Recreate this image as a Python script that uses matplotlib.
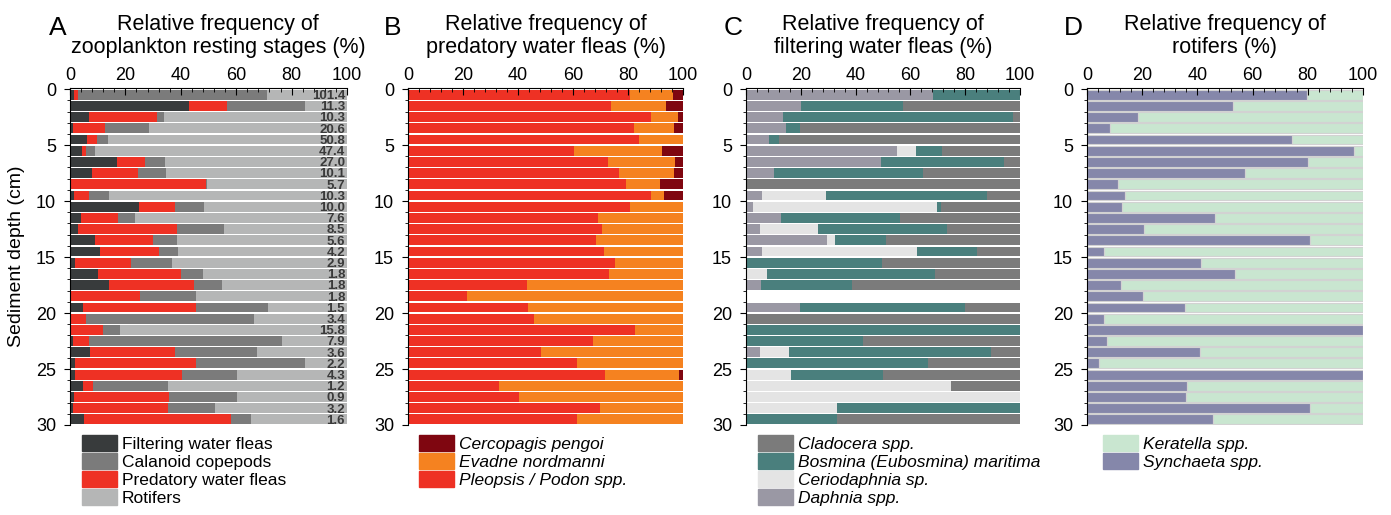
import numpy as np
import matplotlib
matplotlib.use("Agg")
import matplotlib.pyplot as plt
from matplotlib.patches import Patch
from matplotlib.ticker import MultipleLocator

plt.rcParams['font.family'] = ['Liberation Sans', 'DejaVu Sans']

depth = np.arange(30) + 0.5

# Panel A: zooplankton resting stages (%)
filtering = [1.5, 42.8, 6.7, 1.2, 6.1, 4.2, 17.0, 8.1, 0.4, 1.5, 24.8, 4.1, 2.9, 9.1, 10.9,
             1.8, 10.1, 14.0, 0.2, 4.7, 0.2, 0.2, 1.0, 7.3, 1.8, 1.8, 4.7, 1.3, 1.0, 5.2]
predatory = [1.4, 14.0, 24.6, 11.4, 3.6, 1.7, 9.9, 16.5, 48.8, 5.4, 13.2, 13.4, 35.8, 20.8, 21.1,
             20.2, 30.1, 30.7, 24.9, 40.9, 5.5, 11.6, 5.9, 30.6, 43.7, 38.6, 3.6, 34.4, 34.2, 53.1]
calanoid = [68.1, 28.2, 2.6, 15.8, 4.0, 3.2, 7.4, 10.1, 0.2, 7.1, 10.2, 5.9, 17.0, 8.6, 7.0,
            14.7, 7.8, 10.3, 20.4, 25.9, 60.7, 6.4, 69.6, 29.5, 39.5, 19.9, 27.0, 24.6, 17.0, 7.2]
rotifers = [29.0, 15.0, 66.1, 71.6, 86.3, 90.9, 65.7, 65.3, 50.6, 86.0, 51.8, 76.6, 44.3, 61.5, 61.0,
            63.3, 52.0, 45.0, 54.5, 28.5, 33.6, 81.8, 23.5, 32.6, 15.0, 39.7, 64.7, 39.7, 47.8, 34.5]
totals = ["101.4", "11.3", "10.3", "20.6", "50.8", "47.4", "27.0", "10.1", "5.7", "10.3",
          "10.0", "7.6", "8.5", "5.6", "4.2", "2.9", "1.8", "1.8", "1.8", "1.5",
          "3.4", "15.8", "7.9", "3.6", "2.2", "4.3", "1.2", "0.9", "3.2", "1.6"]

# Panel B: predatory water fleas (%)
pleopsis = [80.7, 73.9, 88.2, 82.2, 84.1, 60.4, 72.8, 76.9, 79.4, 88.2, 80.8, 69.2, 70.6, 68.2, 71.2,
            75.1, 73.2, 43.3, 21.5, 43.5, 45.7, 82.6, 67.2, 48.4, 61.5, 71.6, 33.0, 40.5, 69.7, 61.5]
evadne = [15.7, 19.8, 10.1, 14.6, 15.9, 32.0, 24.4, 19.9, 12.1, 4.9, 19.2, 30.8, 29.4, 31.8, 28.8,
          24.9, 26.8, 56.7, 78.5, 56.5, 54.3, 17.4, 32.8, 51.6, 38.5, 27.0, 67.0, 59.5, 30.3, 38.5]
cercopagis = [3.6, 6.3, 1.7, 3.2, 0, 7.6, 2.8, 3.2, 8.5, 6.9, 0, 0, 0, 0, 0,
              0, 0, 0, 0, 0, 0, 0, 0, 0, 0, 1.4, 0, 0, 0, 0]

# Panel C: filtering water fleas (%)
daphnia = [68.4, 20.2, 13.4, 14.7, 8.5, 55.1, 49.4, 10.2, 0, 5.7, 2.7, 12.8, 5.1, 29.7, 6.0,
           0, 0, 5.3, 0, 19.7, 0, 0, 0, 5.2, 0, 0, 0, 0, 0, 0]
ceriodaphnia = [0, 0, 0, 0, 0, 6.9, 0, 0, 0, 23.5, 67.0, 0, 21.2, 2.8, 56.4,
                0, 7.5, 0, 0, 0, 0, 0, 0, 10.5, 0, 16.5, 74.8, 100, 33.1, 0]
bosmina = [31.6, 37.1, 84.2, 5.0, 3.4, 9.5, 44.8, 54.4, 0, 58.8, 1.5, 43.4, 47.1, 18.6, 21.9,
           49.8, 61.5, 33.4, 0, 60.2, 0, 100, 42.6, 73.6, 66.4, 33.4, 0, 0, 66.9, 33.1]
cladocera = [0, 42.7, 2.4, 80.3, 88.1, 28.5, 5.8, 35.4, 100, 12.0, 28.8, 43.8, 26.6, 48.9, 15.7,
             50.2, 31.0, 61.3, 0, 20.1, 100, 0, 57.4, 10.7, 33.6, 50.1, 25.2, 0, 0, 66.9]

# Panel D: rotifers (%)
synchaeta = [79.7, 52.9, 18.5, 8.2, 74.3, 96.7, 80.0, 57.1, 11.2, 13.8, 12.7, 46.4, 20.7, 80.7, 6.0,
             41.4, 53.6, 12.2, 20.2, 35.5, 6.0, 100, 7.1, 40.8, 4.3, 100, 36.1, 35.7, 80.7, 45.6]
keratella = [20.3, 47.1, 81.5, 91.8, 25.7, 3.3, 20.0, 42.9, 88.8, 86.2, 87.3, 53.6, 79.3, 19.3, 94.0,
             58.6, 46.4, 87.8, 79.8, 64.5, 94.0, 0, 92.9, 59.2, 95.7, 0, 63.9, 64.3, 19.3, 54.4]


def stacked(ax, parts, colors, edge=None):
    left = np.zeros(30)
    for vals, col in zip(parts, colors):
        vals = np.array(vals, dtype=float)
        ax.barh(depth, vals, left=left, height=0.88, color=col,
                edgecolor=edge if edge else col, linewidth=0.8 if edge else 0)
        left += vals


def style(ax, title, letter, xletter, xtitle=0.5):
    ax.set_xlim(0, 100)
    ax.set_ylim(30, -0.1)
    ax.xaxis.tick_top()
    ax.set_xticks([0, 20, 40, 60, 80, 100])
    ax.xaxis.set_minor_locator(MultipleLocator(4))
    ax.set_yticks([0, 5, 10, 15, 20, 25, 30])
    ax.yaxis.set_minor_locator(MultipleLocator(1))
    ax.tick_params(axis='x', which='major', direction='in', length=5, width=0.8, labelsize=13, pad=3)
    ax.tick_params(axis='x', which='minor', direction='in', length=3, width=0.6)
    ax.tick_params(axis='y', which='major', direction='out', length=4, labelsize=13, pad=6)
    ax.tick_params(axis='y', which='minor', direction='out', length=2)
    ax.spines['right'].set_visible(False)
    ax.spines['bottom'].set_visible(False)
    ax.text(xtitle, 1.09, title, transform=ax.transAxes, ha='center', va='bottom',
            fontsize=15.5, linespacing=1.12)
    ax.figure.text(xletter, 0.945, letter, ha='center', va='center', fontsize=19)


fig = plt.figure(figsize=(13.91, 5.15), dpi=100)
W, H = 1391, 515
axA = fig.add_axes([70 / W, 90 / H, 277 / W, 337 / H])
axB = fig.add_axes([408 / W, 90 / H, 275 / W, 337 / H])
axC = fig.add_axes([746 / W, 90 / H, 274 / W, 337 / H])
axD = fig.add_axes([1087 / W, 90 / H, 276 / W, 337 / H])

cA = ['#383b3c', '#ee3124', '#7b7b7b', '#b5b6b6']
stacked(axA, [filtering, predatory, calanoid, rotifers], cA)
for y, t in zip(depth, totals):
    axA.text(99.3, y + 0.12, t, ha='right', va='center', fontsize=9.5,
             fontweight='bold', color='#3a3a3a')
style(axA, "Relative frequency of\nzooplankton resting stages (%)", "A", 58 / W, xtitle=0.535)
axA.set_ylabel("Sediment depth (cm)", fontsize=14, labelpad=8)

cB = ['#ee3124', '#f58220', '#7f0610']
stacked(axB, [pleopsis, evadne, cercopagis], cB)
style(axB, "Relative frequency of\npredatory water fleas (%)", "B", 393 / W)

cC = ['#9a98a4', '#e4e4e4', '#4a7f7d', '#7b7b7b']
stacked(axC, [daphnia, ceriodaphnia, bosmina, cladocera], cC)
style(axC, "Relative frequency of\nfiltering water fleas (%)", "C", 733 / W)

cD = ['#8587aa', '#c9e6d0']
stacked(axD, [synchaeta, keratella], cD, edge='#d2d2d2')
style(axD, "Relative frequency of\nrotifers (%)", "D", 1073 / W)

leg_kw = dict(loc='upper left', frameon=False, borderaxespad=0, borderpad=0,
              handlelength=2.0, handleheight=1.0, handletextpad=0.3, labelspacing=0.08)

axA.legend([Patch(color=cA[0]), Patch(color=cA[2]), Patch(color=cA[1]), Patch(color=cA[3])],
           ["Filtering water fleas", "Calanoid copepods", "Predatory water fleas", "Rotifers"],
           bbox_to_anchor=(0.043, -0.03), fontsize=12.5, **leg_kw)
axB.legend([Patch(color=cB[2]), Patch(color=cB[1]), Patch(color=cB[0])],
           ["Cercopagis pengoi", "Evadne nordmanni", "Pleopsis / Podon spp."],
           bbox_to_anchor=(0.04, -0.03), prop={'size': 12.5, 'style': 'italic'}, **leg_kw)
axC.legend([Patch(color=cC[3]), Patch(color=cC[2]), Patch(color=cC[1]), Patch(color=cC[0])],
           ["Cladocera spp.", "Bosmina (Eubosmina) maritima", "Ceriodaphnia sp.", "Daphnia spp."],
           bbox_to_anchor=(0.044, -0.03), prop={'size': 12.5, 'style': 'italic'}, **leg_kw)
axD.legend([Patch(color=cD[1]), Patch(color=cD[0])],
           ["Keratella spp.", "Synchaeta spp."],
           bbox_to_anchor=(0.058, -0.03), prop={'size': 12.5, 'style': 'italic'}, **leg_kw)

fig.savefig("out.png", dpi=100)
